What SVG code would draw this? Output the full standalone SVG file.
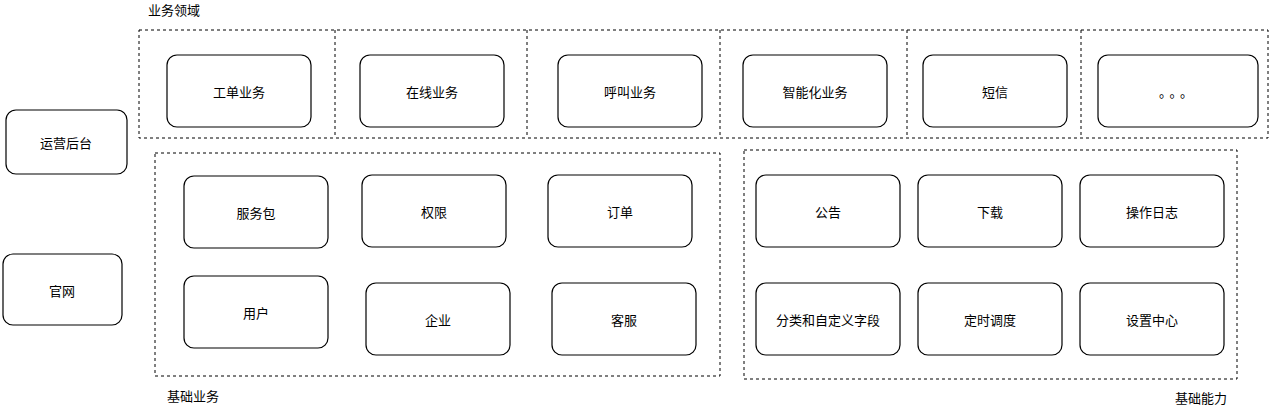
<svg xmlns="http://www.w3.org/2000/svg" width="1271" height="412" viewBox="0 0 1271 412">
<style>
.b{fill:#fff;stroke:#000;stroke-width:1.2}
.d{fill:none;stroke:#000;stroke-width:1;stroke-dasharray:3 3}
text{font-family:"Noto Sans CJK SC","Liberation Sans",sans-serif;font-size:13px;fill:#000}
.c{text-anchor:middle;dominant-baseline:central}
</style>
<rect width="1271" height="412" fill="#fff"/>
<g id="regions">
<rect class="d" x="139" y="30" width="1129" height="108"/>
<line class="d" x1="335" y1="30" x2="335" y2="138"/>
<line class="d" x1="527" y1="30" x2="527" y2="138"/>
<line class="d" x1="720" y1="30" x2="720" y2="138"/>
<line class="d" x1="907" y1="30" x2="907" y2="138"/>
<line class="d" x1="1081" y1="30" x2="1081" y2="138"/>
<rect class="d" x="155" y="153" width="565" height="223"/>
<rect class="d" x="744" y="150" width="493" height="229"/>
<text x="148" y="15">业务领域</text>
<text x="167" y="401">基础业务</text>
<text x="1175" y="403">基础能力</text>
</g>
<g id="n1"><rect class="b" x="167" y="55" width="144" height="72" rx="10"/><text class="c" x="239" y="91">工单业务</text></g>
<g id="n2"><rect class="b" x="360" y="55" width="144" height="72" rx="10"/><text class="c" x="432" y="91">在线业务</text></g>
<g id="n3"><rect class="b" x="558" y="55" width="144" height="72" rx="10"/><text class="c" x="630" y="91">呼叫业务</text></g>
<g id="n4"><rect class="b" x="743" y="55" width="144" height="72" rx="10"/><text class="c" x="815" y="91">智能化业务</text></g>
<g id="n5"><rect class="b" x="923" y="55" width="144" height="72" rx="10"/><text class="c" x="995" y="91">短信</text></g>
<g id="n6"><rect class="b" x="1098" y="55" width="160" height="72" rx="10"/><text class="c" x="1178" y="91" letter-spacing="4">。。。</text></g>
<g id="n7"><rect class="b" x="6" y="110" width="121" height="64" rx="10"/><text class="c" x="66" y="142">运营后台</text></g>
<g id="n8"><rect class="b" x="3" y="254" width="119" height="71" rx="10"/><text class="c" x="62" y="290">官网</text></g>
<g id="n9"><rect class="b" x="184" y="176" width="144" height="72" rx="10"/><text class="c" x="256" y="212">服务包</text></g>
<g id="n10"><rect class="b" x="362" y="175" width="144" height="72" rx="10"/><text class="c" x="434" y="211">权限</text></g>
<g id="n11"><rect class="b" x="548" y="175" width="144" height="72" rx="10"/><text class="c" x="620" y="211">订单</text></g>
<g id="n12"><rect class="b" x="184" y="276" width="144" height="72" rx="10"/><text class="c" x="256" y="312">用户</text></g>
<g id="n13"><rect class="b" x="366" y="283" width="144" height="72" rx="10"/><text class="c" x="438" y="319">企业</text></g>
<g id="n14"><rect class="b" x="552" y="283" width="144" height="72" rx="10"/><text class="c" x="624" y="319">客服</text></g>
<g id="n15"><rect class="b" x="756" y="175" width="144" height="72" rx="10"/><text class="c" x="828" y="211">公告</text></g>
<g id="n16"><rect class="b" x="918" y="175" width="144" height="72" rx="10"/><text class="c" x="990" y="211">下载</text></g>
<g id="n17"><rect class="b" x="1080" y="175" width="144" height="72" rx="10"/><text class="c" x="1152" y="211">操作日志</text></g>
<g id="n18"><rect class="b" x="756" y="283" width="144" height="72" rx="10"/><text class="c" x="828" y="319">分类和自定义字段</text></g>
<g id="n19"><rect class="b" x="918" y="283" width="144" height="72" rx="10"/><text class="c" x="990" y="319">定时调度</text></g>
<g id="n20"><rect class="b" x="1080" y="283" width="144" height="72" rx="10"/><text class="c" x="1152" y="319">设置中心</text></g>
<g id="connectors"></g>
</svg>
